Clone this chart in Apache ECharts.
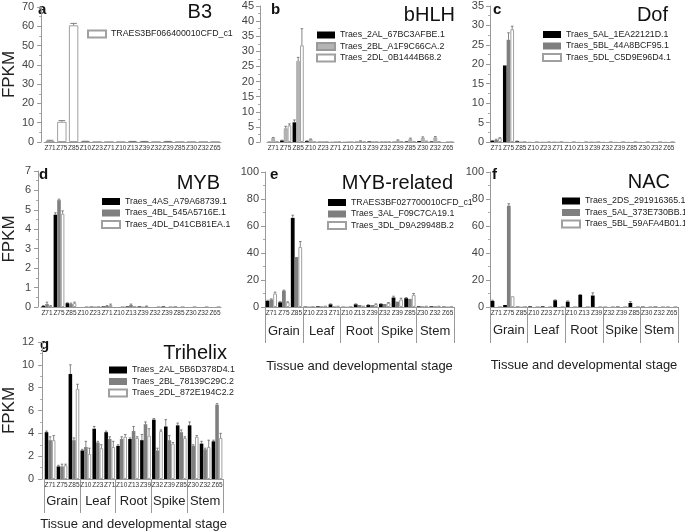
<!DOCTYPE html>
<html><head><meta charset="utf-8">
<script src="https://cdn.jsdelivr.net/npm/echarts@6/dist/echarts.min.js"></script>
<style>html,body{margin:0;padding:0;background:#fff}#c{width:685px;height:532px}</style>
</head><body><div id="c"></div>
<script>
const stages = ['Z71','Z75','Z85','Z10','Z23','Z71','Z10','Z13','Z39','Z32','Z39','Z85','Z30','Z32','Z65'];
const tissues = ['Grain','Leaf','Root','Spike','Stem'];
const yTitle = 'FPKM';
const xTitle = 'Tissue and developmental stage';

// a B3
const b3Names = ['TRAES3BF066400010CFD_c1'];
const b3_1  = [0.6,10.5,60.5,0.3,0.1,0.1,0.1,0.2,0.2,0.1,0.2,0.1,0.1,0.1,0.1];
const b3_1e = [0.3,0.6,1.0,0.1,0,0,0,0.1,0.1,0,0.1,0,0,0,0];
// b bHLH
const bhlhNames = ['Traes_2AL_67BC3AFBE.1','Traes_2BL_A1F9C66CA.2','Traes_2DL_0B1444B68.2'];
const bhlh_1  = [0.1,0.5,6.5,0.3,0.1,0.05,0.05,0.1,0.2,0.1,0.1,0.2,0.3,0.2,0];
const bhlh_2  = [1.3,4.5,26.8,0.9,0.2,0.1,0.1,0.3,0.2,0.2,0.5,1.0,1.4,1.5,0.1];
const bhlh_3  = [0.3,5.5,32,0.1,0.1,0.1,0,0.1,0.1,0.1,0.2,0.3,0.5,0.3,0];
const bhlh_1e = [0,0.1,0.8,0.1,0,0,0,0,0,0,0,0,0,0,0];
const bhlh_2e = [0.2,0.7,1.2,0.1,0,0,0,0.1,0,0,0.2,0.3,0.3,0.3,0];
const bhlh_3e = [0,0.5,5.5,0,0,0,0,0,0,0,0,0,0,0,0];
// c Dof
const dofNames = ['Traes_5AL_1EA22121D.1','Traes_5BL_44A8BCF95.1','Traes_5DL_C5D9E96D4.1'];
const dof_1  = [0.3,19.7,0.2,0.03,0.03,0.05,0.02,0.02,0.05,0.02,0.02,0.02,0.02,0.02,0.02];
const dof_2  = [0.5,26.3,0.1,0,0.05,0.05,0,0,0.05,0,0,0,0,0,0];
const dof_3  = [1.0,29.0,0.1,0,0,0.05,0,0,0,0,0,0,0,0,0];
const dof_1e = [0.1,0,0.05,0,0,0,0,0,0,0,0,0,0,0,0];
const dof_2e = [0.2,1.8,0,0,0,0,0,0,0,0,0,0,0,0,0];
const dof_3e = [0.1,0.8,0,0,0,0,0,0,0,0,0,0,0,0,0];
// d MYB
const mybNames = ['Traes_4AS_A79A68739.1','Traes_4BL_545A5716E.1','Traes_4DL_D41CB81EA.1'];
const myb_1  = [0.05,4.75,0.2,0,0.02,0.03,0,0.03,0.03,0,0.03,0.02,0,0,0];
const myb_2  = [0.15,5.5,0.15,0,0.02,0.05,0,0.1,0.02,0,0,0,0,0,0];
const myb_3  = [0.05,4.8,0.2,0,0.02,0.1,0,0.02,0.03,0,0,0,0,0,0];
const myb_1e = [0.02,0.1,0.02,0,0,0,0,0,0,0,0,0,0,0,0];
const myb_2e = [0.1,0.05,0.05,0,0,0.02,0,0.05,0,0,0,0,0,0,0];
const myb_3e = [0.02,0.15,0.05,0,0,0.05,0,0,0.02,0,0,0,0,0,0];
// e MYB-related
const mybrNames = ['TRAES3BF027700010CFD_c1','Traes_3AL_F09C7CA19.1','Traes_3DL_D9A29948B.2'];
const mybr_1  = [4.5,3.5,66,0.3,0.5,2,0.2,2,1.5,2.2,7,6.5,0.5,0.5,0.3];
const mybr_2  = [5.5,12,37,0.3,0.5,0.5,0.2,1.5,1.5,2.2,4,6,0.5,0.5,0.3];
const mybr_3  = [10,3.5,44.5,0.5,1,1,0.5,1,2,3,5.5,9,1,1,0.5];
const mybr_1e = [0.5,0.5,2,0,0,0.3,0,0.3,0.2,0.3,1,0.5,0,0,0];
const mybr_2e = [0.5,0.5,0,0,0,0,0,0,0,0,0,0,0,0,0];
const mybr_3e = [1,0.3,4,0,0,0,0,0,0.3,0.3,1,1,0,0,0];
// f NAC
const nacNames = ['Traes_2DS_291916365.1','Traes_5AL_373E730BB.1','Traes_5BL_59AFA4B01.1'];
const nac_1  = [4.5,1.5,0.3,0.5,0.5,5,4,9,8.5,0.2,0.3,3,0.3,0.3,0.2];
const nac_2  = [0,75,0.2,0,0,0,0,0,0,0,0,0,0,0,0];
const nac_3  = [0,8,0.2,0,0,0,0,0,0,0,0,0,0,0,0];
const nac_1e = [0.5,0,0,0,0,0.3,0.5,0.3,2,0,0,1,0,0,0];
const nac_2e = [0,1.5,0,0,0,0,0,0,0,0,0,0,0,0,0];
const nac_3e = [0,0,0,0,0,0,0,0,0,0,0,0,0,0,0];
// g Trihelix
const triNames = ['Traes_2AL_5B6D378D4.1','Traes_2BL_78139C29C.2','Traes_2DL_872E194C2.2'];
const tri_1  = [4.1,1.1,9.2,2.5,4.4,4.1,2.9,3.5,3.4,5.2,4.6,4.7,4.7,3.1,3.3];
const tri_2  = [3.4,1.1,3.4,2.8,3.2,3.5,3.5,4.2,4.8,2.5,3.4,4.1,2.9,2.6,6.5];
const tri_3  = [3.4,1.2,7.9,2.2,2.7,2.8,3.7,3.6,3.8,4.2,3.1,3.6,3.7,2.8,3.6];
const tri_1e = [0.1,0.1,0.8,0.1,0.2,0.1,0.1,0.1,0.5,0.1,0.6,0.2,0.3,0.2,0.1];
const tri_2e = [0.3,0.2,0.2,0.5,0.1,0.2,0.2,0.4,0.2,0.2,0.4,0.2,0.1,0.1,0.1];
const tri_3e = [0.4,0.1,0.4,0.5,0.3,0.5,0.2,0.1,0.6,0.1,0.1,0.1,0.1,0.6,0.4];

const FONT = '"Liberation Sans", Arial, sans-serif';
const BLACK = {color:'#000000'};
const GREYL = {color:'#b4b4b4', borderColor:'#9a9a9a', borderWidth:0.6};
const GREY = {color:'#7f7f7f'};
const WHITE = {color:'#ffffff', borderColor:'#a0a0a0', borderWidth:1};

const panels = [
  {letter:'a', title:'B3', names:b3Names, vals:[b3_1], errs:[b3_1e], styles:[WHITE],
   grid:{left:37, top:7, width:184, height:135}, max:70, interval:10, fpkm:true, yoff:3, ymargin:7, groups:false,
   legend:{left:87, top:29.5}, tpos:[212,12], lpos:[38,10], gap:0.2},
  {letter:'b', title:'bHLH', names:bhlhNames, vals:[bhlh_1,bhlh_2,bhlh_3], errs:[bhlh_1e,bhlh_2e,bhlh_3e], styles:[BLACK,GREYL,WHITE],
   grid:{left:267, top:6, width:187, height:136}, max:45, interval:5, yoff:7, groups:false,
   legend:{left:316, top:30.5}, tpos:[455,15], lpos:[271,10], gap:0.1},
  {letter:'c', title:'Dof', names:dofNames, vals:[dof_1,dof_2,dof_3], errs:[dof_1e,dof_2e,dof_3e], styles:[BLACK,GREY,WHITE],
   grid:{left:490, top:6, width:185, height:136}, max:35, interval:5, groups:false,
   legend:{left:542, top:30}, tpos:[668,15], lpos:[493,10], gap:0.1},
  {letter:'d', title:'MYB', names:mybNames, vals:[myb_1,myb_2,myb_3], errs:[myb_1e,myb_2e,myb_3e], styles:[BLACK,GREY,WHITE],
   grid:{left:37, top:171, width:184, height:136}, max:7, interval:1, fpkm:true, yoff:3, ymargin:7, groups:false,
   legend:{left:101, top:197}, tpos:[220,183], lpos:[39,175], gap:0.1},
  {letter:'e', title:'MYB-related', names:mybrNames, vals:[mybr_1,mybr_2,mybr_3], errs:[mybr_1e,mybr_2e,mybr_3e], styles:[BLACK,GREY,WHITE],
   grid:{left:265, top:172, width:189, height:135}, max:100, interval:20, groups:true, tickLen:36, gMargin:18, nameGap:53,
   legend:{left:327, top:198}, tpos:[453,183], lpos:[270,175], gap:0.1},
  {letter:'f', title:'NAC', names:nacNames, vals:[nac_1,nac_2,nac_3], errs:[nac_1e,nac_2e,nac_3e], styles:[BLACK,GREY,WHITE],
   grid:{left:490, top:172, width:188, height:135}, max:100, interval:20, groups:true, tickLen:36, gMargin:17, nameGap:52,
   legend:{left:561, top:196.5}, tpos:[670,182], lpos:[492,175], gap:0.1},
  {letter:'g', title:'Trihelix', names:triNames, vals:[tri_1,tri_2,tri_3], errs:[tri_1e,tri_2e,tri_3e], styles:[BLACK,GREY,WHITE],
   grid:{left:38, top:342, width:185, height:137}, max:12, interval:2, fpkm:true, yoff:2, ymargin:8, groups:true, tickLen:34, gMargin:16, nameGap:39,
   legend:{left:108, top:365.5}, tpos:[227,353], lpos:[40,345], gap:0.1}
];

function errRender(n, gapFrac){
  return function(params, api){
    const cat = api.value(0), v = api.value(1), e = api.value(2), k = api.value(3);
    if (!(e > 0)) return null;
    const band = api.size([1,0])[0];
    const used = band*(1-gapFrac);
    const bw = used/n;
    const c0 = api.coord([cat, v]);
    const c1 = api.coord([cat, v+e]);
    const x = c0[0] - used/2 + bw*(k+0.5);
    const cap = Math.max(1.2, bw*0.35);
    const st = {stroke:'#666', lineWidth:0.8};
    return {type:'group', children:[
      {type:'line', shape:{x1:x, y1:c0[1], x2:x, y2:c1[1]}, style:st},
      {type:'line', shape:{x1:x-cap, y1:c1[1], x2:x+cap, y2:c1[1]}, style:st}
    ]};
  };
}

const grid = [], xAxis = [], yAxis = [], series = [], legend = [], graphic = [];
const catKeys = stages.map((s,i)=> s + '#' + i);

panels.forEach((p, gi) => {
  grid.push(Object.assign({containLabel:false}, p.grid));
  xAxis.push({type:'category', gridIndex:gi, position:'bottom', data:catKeys,
    axisLine:{show:true, lineStyle:{color:'#999', width:1}},
    axisTick:{show:false},
    axisLabel:{interval:0, fontSize:6.5, fontFamily:FONT, color:'#333', margin:3,
      formatter: v => v.split('#')[0]}});
  if (p.groups) {
    xAxis.push({type:'category', gridIndex:gi, position:'bottom', data:tissues,
      axisLine:{show:false},
      axisTick:{show:true, interval:0, length:p.tickLen, lineStyle:{color:'#999', width:1}},
      axisLabel:{interval:0, fontSize:13, fontFamily:FONT, color:'#222', margin:p.gMargin},
      name:xTitle, nameLocation:'middle', nameGap:p.nameGap,
      nameTextStyle:{fontSize:13, fontFamily:FONT, color:'#222'}});
  }
  const xi = xAxis.length - (p.groups ? 2 : 1);
  yAxis.push({type:'value', gridIndex:gi, min:0, max:p.max, interval:p.interval,
    offset:p.yoff || 0,
    axisLine:{show:true, lineStyle:{color:'#999', width:1}},
    axisTick:{show:true, length:4, lineStyle:{color:'#999'}},
    minorTick:{show:true, splitNumber:2, length:2, lineStyle:{color:'#aaa'}},
    splitLine:{show:false},
    axisLabel:{fontSize:11, fontFamily:FONT, color:'#444', margin:p.ymargin || 6},
    name: p.fpkm ? yTitle : '', nameLocation:'middle', nameGap:20,
    nameTextStyle:{fontSize:17, fontFamily:FONT, color:'#222'}});
  const n = p.vals.length;
  p.vals.forEach((vals, k) => {
    series.push({type:'bar', name:p.names[k], xAxisIndex:xi, yAxisIndex:gi,
      data:vals, barGap:'0%', barCategoryGap:(p.gap*100)+'%',
      itemStyle:Object.assign({}, p.styles[k]), emphasis:{disabled:true}, animation:false});
  });
  const edata = [];
  p.errs.forEach((errs, k) => errs.forEach((e, i) => edata.push([i, p.vals[k][i], e, k])));
  series.push({type:'custom', name:'err'+gi, xAxisIndex:xi, yAxisIndex:gi, z:5,
    renderItem:errRender(n, p.gap), data:edata, animation:false, silent:true});
  legend.push({data:p.names.map(nm => ({name:nm, icon:'rect'})), orient:'vertical', left:p.legend.left, top:p.legend.top,
    itemWidth:18, itemHeight:7, itemGap:2.5, itemTextGap:4, selectedMode:false,
    textStyle:{fontSize:8.8, fontFamily:FONT, color:'#222'}, padding:0});
  graphic.push({type:'text', x:p.tpos[0], y:p.tpos[1],
    style:{text:p.title, font:'20px ' + FONT, fill:'#111', align:'right', verticalAlign:'middle'}});
  graphic.push({type:'text', x:p.lpos[0], y:p.lpos[1],
    style:{text:p.letter, font:'bold 15px ' + FONT, fill:'#111', align:'left', verticalAlign:'middle'}});
});

const chart = echarts.init(document.getElementById('c'), null, {renderer:'canvas'});
chart.setOption({backgroundColor:'#fff', animation:false, grid, xAxis, yAxis, series, legend, graphic});
</script>
</body></html>
